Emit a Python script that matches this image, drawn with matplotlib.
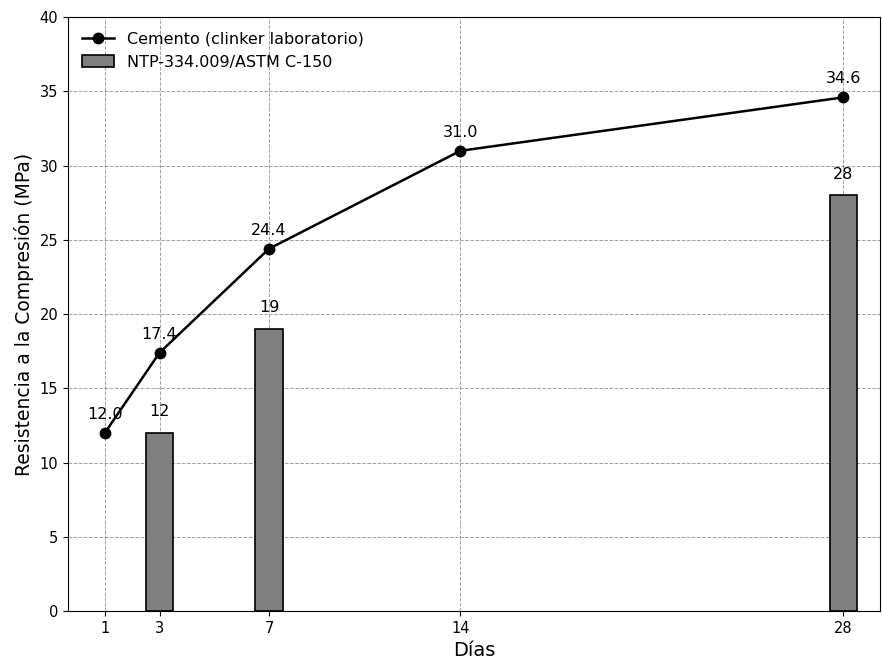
import matplotlib
matplotlib.use("Agg")
import matplotlib.pyplot as plt
import numpy as np

dias = [1, 3, 7, 14, 28]
cemento = [12.0, 17.4, 24.4, 31.0, 34.6]
norma_dias = [3, 7, 28]
norma = [12, 19, 28]

fig, ax = plt.subplots(figsize=(8.82, 6.61), dpi=100)
ax.set_axisbelow(True)

ax.plot(dias, cemento, "-o", color="black", linewidth=1.8, markersize=7.5,
        label="Cemento (clinker laboratorio)", zorder=3)
ax.bar(norma_dias, norma, width=1.0, color="gray", edgecolor="black",
       linewidth=1.2, label="NTP-334.009/ASTM C-150", zorder=2)

for x, y in zip(dias, cemento):
    ax.annotate("{:.1f}".format(y), (x, y), textcoords="offset points",
                xytext=(0, 10), ha="center", fontsize=11.5)
for x, y in zip(norma_dias, norma):
    ax.annotate("{}".format(y), (x, y), textcoords="offset points",
                xytext=(0, 12), ha="center", fontsize=11.5)

ax.set_xlim(-0.35, 29.35)
ax.set_ylim(0, 40)
ax.set_xticks(dias)
ax.tick_params(labelsize=10.5)
ax.set_xlabel("Días", fontsize=14)
ax.set_ylabel("Resistencia a la Compresión (MPa)", fontsize=13.5)
ax.grid(True, linestyle="--", color="gray", alpha=0.75, linewidth=0.7)

ax.legend(loc="upper left", frameon=False, fontsize=11.5)

plt.subplots_adjust(left=0.077, right=0.998, top=0.974, bottom=0.0756)
plt.savefig("out.png", dpi=100)
